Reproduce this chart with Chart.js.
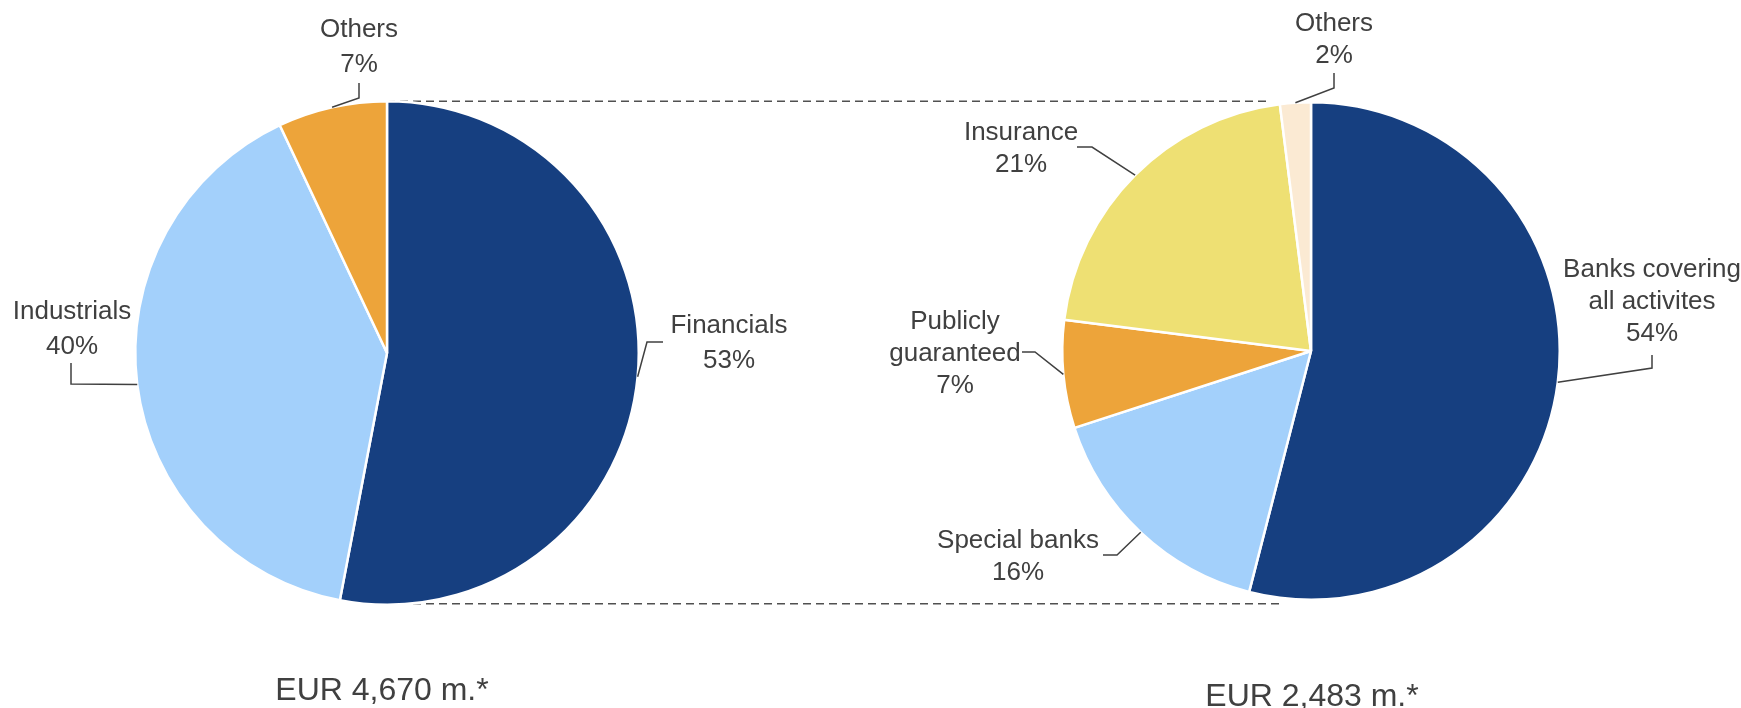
<!DOCTYPE html>
<html>
<head>
<meta charset="utf-8">
<title>Portfolio split</title>
<script src="https://cdn.jsdelivr.net/npm/chart.js@4.4.1/dist/chart.umd.min.js"></script>
<style>
  body { margin: 0; background: #fff; }
  #wrap { position: relative; width: 1741px; height: 708px; }
  #wrap canvas { position: absolute; left: 0; top: 0; }
</style>
</head>
<body>
<div id="wrap">
  <canvas id="pieRight" width="1741" height="708"></canvas>
  <canvas id="pieLeft" width="1741" height="708"></canvas>
</div>
<script>
// whole portfolio
const leftLabels = ["Financials", "Industrials", "Others"];
const leftValues = [53, 40, 7];
const leftTotal = "EUR 4,670 m.*";

// breakdown of the financials slice
const rightLabels = [["Banks covering", "all activites"], "Special banks", ["Publicly", "guaranteed"], "Insurance", "Others"];
const rightValues = [54, 16, 7, 21, 2];
const rightTotal = "EUR 2,483 m.*";

const DARK_BLUE = "#163f80";
const LIGHT_BLUE = "#a3d0fb";
const ORANGE = "#eda43a";
const YELLOW = "#eee073";
const BEIGE = "#fbead3";
const leftColors = [DARK_BLUE, LIGHT_BLUE, ORANGE];
const rightColors = [DARK_BLUE, LIGHT_BLUE, ORANGE, YELLOW, BEIGE];

const TEXT = "#404040";
const FONT = "'Liberation Sans', Arial, sans-serif";

// where each label sits, relative to the pie centre (text x, first baseline, leader knee, leader end)
const leftPlaces = [
  { tx: 342, ty: -20, knee: [260, -11], end: [276, -11] },
  { tx: -315, ty: -34, knee: [-316, 31], end: [-316, 10] },
  { tx: -28, ty: -316, knee: [-28, -255], end: [-28, -270] },
];
const rightPlaces = [
  { tx: 341, ty: -74, knee: [341, 17], end: [341, 4] },
  { tx: -293, ty: 197, knee: [-194, 204], end: [-208, 204] },
  { tx: -356, ty: -22, knee: [-276, 1], end: [-289, 1] },
  { tx: -290, ty: -211, knee: [-219, -204], end: [-234, -204] },
  { tx: 23, ty: -320, knee: [23, -263], end: [23, -278] },
];

function labelsPlugin(places, lineHeight, total, totalDx, totalDy) {
  return {
    id: "sliceLabels",
    afterDraw(chart) {
      const ctx = chart.ctx;
      const arcs = chart.getDatasetMeta(0).data;
      const values = chart.data.datasets[0].data;
      ctx.save();
      ctx.strokeStyle = TEXT;
      ctx.fillStyle = TEXT;
      ctx.lineWidth = 1.5;
      ctx.textAlign = "center";
      ctx.textBaseline = "alphabetic";
      ctx.font = "26px " + FONT;
      let cx = 0, cy = 0;
      arcs.forEach((arc, i) => {
        const p = arc.getProps(["x", "y", "startAngle", "endAngle", "outerRadius"]);
        cx = p.x; cy = p.y;
        const mid = (p.startAngle + p.endAngle) / 2;
        const ax = p.x + Math.cos(mid) * p.outerRadius;
        const ay = p.y + Math.sin(mid) * p.outerRadius;
        const pl = places[i];
        ctx.beginPath();
        ctx.moveTo(ax, ay);
        ctx.lineTo(p.x + pl.knee[0], p.y + pl.knee[1]);
        ctx.lineTo(p.x + pl.end[0], p.y + pl.end[1]);
        ctx.stroke();

        const name = chart.data.labels[i];
        const lines = (Array.isArray(name) ? name : [name]).concat(values[i] + "%");
        lines.forEach((t, k) => {
          ctx.fillText(t, p.x + pl.tx, p.y + pl.ty + k * lineHeight);
        });
      });
      ctx.font = "32px " + FONT;
      ctx.fillText(total, cx + totalDx, cy + totalDy);
      ctx.restore();
    },
  };
}

// dashed guides from the left pie over to the right one, drawn under both pies
const guidesPlugin = {
  id: "guides",
  beforeDatasetsDraw(chart) {
    const left = Chart.getChart("pieLeft");
    if (!left) return;
    const a = left.getDatasetMeta(0).data[0];
    const b = chart.getDatasetMeta(0).data[0];
    const ctx = chart.ctx;
    ctx.save();
    ctx.strokeStyle = "#505050";
    ctx.lineWidth = 1.5;
    ctx.setLineDash([8, 5]);
    ctx.beginPath();
    ctx.moveTo(a.x, a.y - a.outerRadius);
    ctx.lineTo(b.x - 43, a.y - a.outerRadius);
    ctx.moveTo(a.x, a.y + a.outerRadius - 1);
    ctx.lineTo(b.x - 29, a.y + a.outerRadius - 1);
    ctx.stroke();
    ctx.restore();
  },
};

function pieOptions(padding) {
  return {
    responsive: false,
    animation: false,
    devicePixelRatio: 1,
    layout: { padding: padding },
    plugins: {
      legend: { display: false },
      tooltip: { enabled: false },
    },
  };
}

new Chart(document.getElementById("pieLeft"), {
  type: "pie",
  data: {
    labels: leftLabels,
    datasets: [{
      data: leftValues,
      backgroundColor: leftColors,
      borderColor: "#ffffff",
      borderWidth: 2.5,
    }],
  },
  options: pieOptions({ left: 134, right: 1101, top: 100, bottom: 102 }),
  plugins: [labelsPlugin(leftPlaces, 34.5, leftTotal, -5, 347)],
});

new Chart(document.getElementById("pieRight"), {
  type: "pie",
  data: {
    labels: rightLabels,
    datasets: [{
      data: rightValues,
      backgroundColor: rightColors,
      borderColor: "#ffffff",
      borderWidth: 2.5,
    }],
  },
  options: pieOptions({ left: 1061, right: 180, top: 101, bottom: 107 }),
  plugins: [guidesPlugin, labelsPlugin(rightPlaces, 32, rightTotal, 1, 355)],
});
</script>
</body>
</html>
